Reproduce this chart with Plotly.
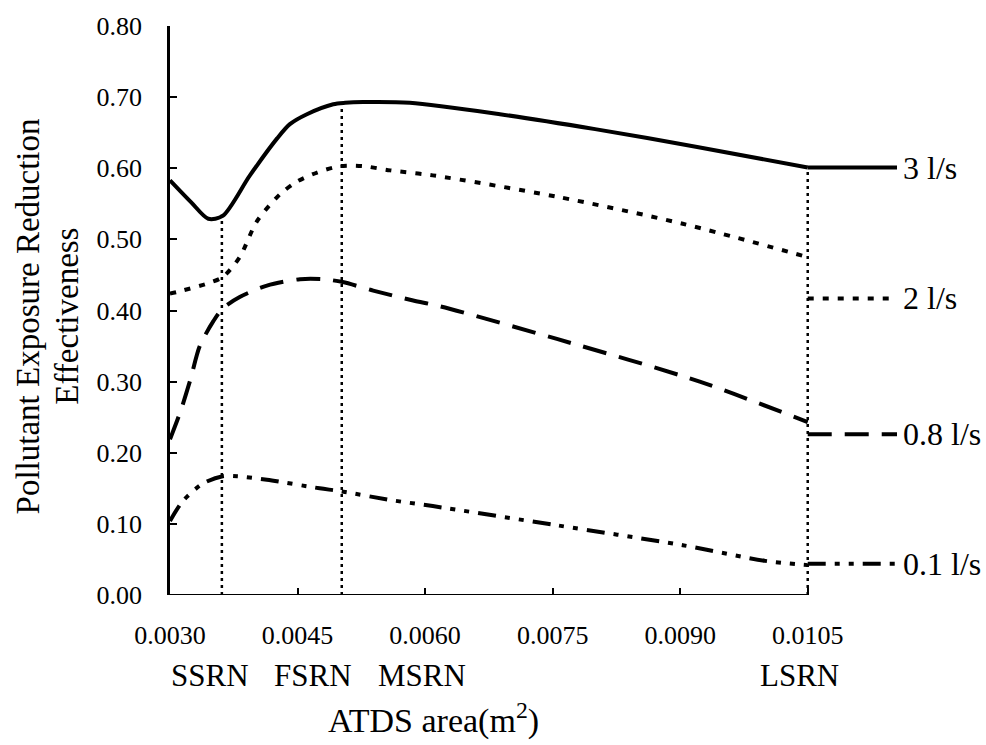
import plotly.graph_objects as go

# ---- data ----
x_3 = [0.00300, 0.00325, 0.00345, 0.00362, 0.00394, 0.00426, 0.00441, 0.00461, 0.00492, 0.00506, 0.00527, 0.00582, 0.00688, 0.00800, 0.00920, 0.01050]
y_3 = [0.583, 0.552, 0.529, 0.533, 0.590, 0.642, 0.662, 0.676, 0.690, 0.692, 0.693, 0.692, 0.676, 0.655, 0.630, 0.601]

x_2 = [0.00300, 0.00308, 0.00344, 0.00362, 0.00382, 0.00402, 0.00429, 0.00449, 0.00473, 0.00500, 0.00527, 0.00559, 0.00609, 0.00755, 0.00903, 0.01050]
y_2 = [0.424, 0.426, 0.438, 0.447, 0.475, 0.525, 0.563, 0.581, 0.594, 0.603, 0.603, 0.597, 0.590, 0.560, 0.522, 0.475]

x_08 = [0.00300, 0.00312, 0.00324, 0.00335, 0.00351, 0.00362, 0.00382, 0.00414, 0.00453, 0.00480, 0.00503, 0.00539, 0.00586, 0.00617, 0.00755, 0.00923, 0.01050]
y_08 = [0.219, 0.257, 0.303, 0.350, 0.385, 0.403, 0.419, 0.435, 0.444, 0.444, 0.440, 0.428, 0.414, 0.406, 0.360, 0.300, 0.243]

x_01 = [0.00300, 0.00315, 0.00339, 0.00362, 0.00379, 0.00414, 0.00476, 0.00500, 0.00562, 0.00609, 0.00755, 0.00903, 0.01000, 0.01050]
y_01 = [0.104, 0.132, 0.157, 0.167, 0.167, 0.162, 0.150, 0.146, 0.133, 0.125, 0.098, 0.070, 0.048, 0.042]

# flat tails drawn beyond 0.0105 up to the series labels
tail_x = [0.01050, 0.01155]
tail_y = {"3 l/s": 0.601, "2 l/s": 0.417, "0.8 l/s": 0.226, "0.1 l/s": 0.044}

# vertical dotted reference lines (configuration positions)
ref_x = [0.00361, 0.00502, 0.01050]
ref_top = [0.535, 0.691, 0.601]

config_names = ["SSRN", "FSRN", "MSRN", "LSRN"]
config_x = [0.00347, 0.00468, 0.00596, 0.01040]

x_ticks = [0.0030, 0.0045, 0.0060, 0.0075, 0.0090, 0.0105]
x_ticktext = ["0.0030", "0.0045", "0.0060", "0.0075", "0.0090", "0.0105"]
y_ticks = [0.0, 0.1, 0.2, 0.3, 0.4, 0.5, 0.6, 0.7, 0.8]
y_ticktext = ["0.00", "0.10", "0.20", "0.30", "0.40", "0.50", "0.60", "0.70", "0.80"]

y_title_lines = ["Pollutant Exposure Reduction", "Effectiveness"]

FONT = "Liberation Serif, Times New Roman, serif"

series = [
    ("3 l/s", x_3, y_3, "solid", 4),
    ("2 l/s", x_2, y_2, "6px,9px", 4),
    ("0.8 l/s", x_08, y_08, "24px,13px", 4),
    ("0.1 l/s", x_01, y_01, "18px,9px,5px,9px,5px,9px", 4),
]

fig = go.Figure()

for xr, top in zip(ref_x, ref_top):
    fig.add_trace(go.Scatter(x=[xr, xr], y=[0, top], mode="lines",
                             line=dict(color="black", width=2.5, dash="3px,4px"),
                             showlegend=False, hoverinfo="skip"))

for name, xs, ys, dash, w in series:
    fig.add_trace(go.Scatter(x=xs, y=ys, mode="lines",
                             line=dict(color="black", width=w, dash=dash, shape="spline", smoothing=0.8),
                             showlegend=False, name=name))
    fig.add_trace(go.Scatter(x=tail_x, y=[tail_y[name]] * 2, mode="lines",
                             line=dict(color="black", width=w, dash=dash),
                             showlegend=False, hoverinfo="skip"))
    fig.add_annotation(x=tail_x[-1], y=tail_y[name], xref="x", yref="y", text=name,
                       showarrow=False, xanchor="left", yanchor="middle", xshift=4,
                       font=dict(family=FONT, size=32, color="black"))

# x axis line only up to 0.0105, as in the reference
fig.add_shape(type="line", xref="x", yref="y", x0=x_ticks[0], x1=x_ticks[-1], y0=0, y1=0,
              line=dict(color="black", width=2))

for nm, xc in zip(config_names, config_x):
    fig.add_annotation(x=xc, y=-0.142, xref="x", yref="paper", text=nm, showarrow=False,
                       xanchor="center", yanchor="middle",
                       font=dict(family=FONT, size=31, color="black"))

fig.add_annotation(x=0.363, y=-0.217, xref="paper", yref="paper",
                   text="ATDS area(m<sup>2</sup>)", showarrow=False,
                   xanchor="center", yanchor="middle",
                   font=dict(family=FONT, size=34, color="black"))

for txt, px in zip(y_title_lines, [-0.195, -0.141]):
    fig.add_annotation(x=px, y=0.49, xref="paper", yref="paper",
                       text=txt, showarrow=False,
                       textangle=-90, xanchor="center", yanchor="middle",
                       font=dict(family=FONT, size=33, color="black"))

fig.update_layout(
    width=986, height=745,
    margin=dict(l=170, r=89, t=19, b=150),
    paper_bgcolor="white", plot_bgcolor="white",
    font=dict(family=FONT, color="black"),
    xaxis=dict(range=[0.0030, 0.01155], tickvals=x_ticks, ticktext=x_ticktext,
               ticks="inside", ticklen=7, tickwidth=2, tickcolor="black",
               showline=False, showgrid=False, zeroline=False,
               ticklabelstandoff=22, tickfont=dict(family=FONT, size=26, color="black")),
    yaxis=dict(range=[0, 0.80], tickvals=y_ticks, ticktext=y_ticktext,
               ticks="inside", ticklen=7, tickwidth=2, tickcolor="black",
               showline=True, linecolor="black", linewidth=2.5,
               showgrid=False, zeroline=False,
               ticklabelstandoff=20, tickfont=dict(family=FONT, size=26, color="black")),
)

fig.write_html("out.html")
